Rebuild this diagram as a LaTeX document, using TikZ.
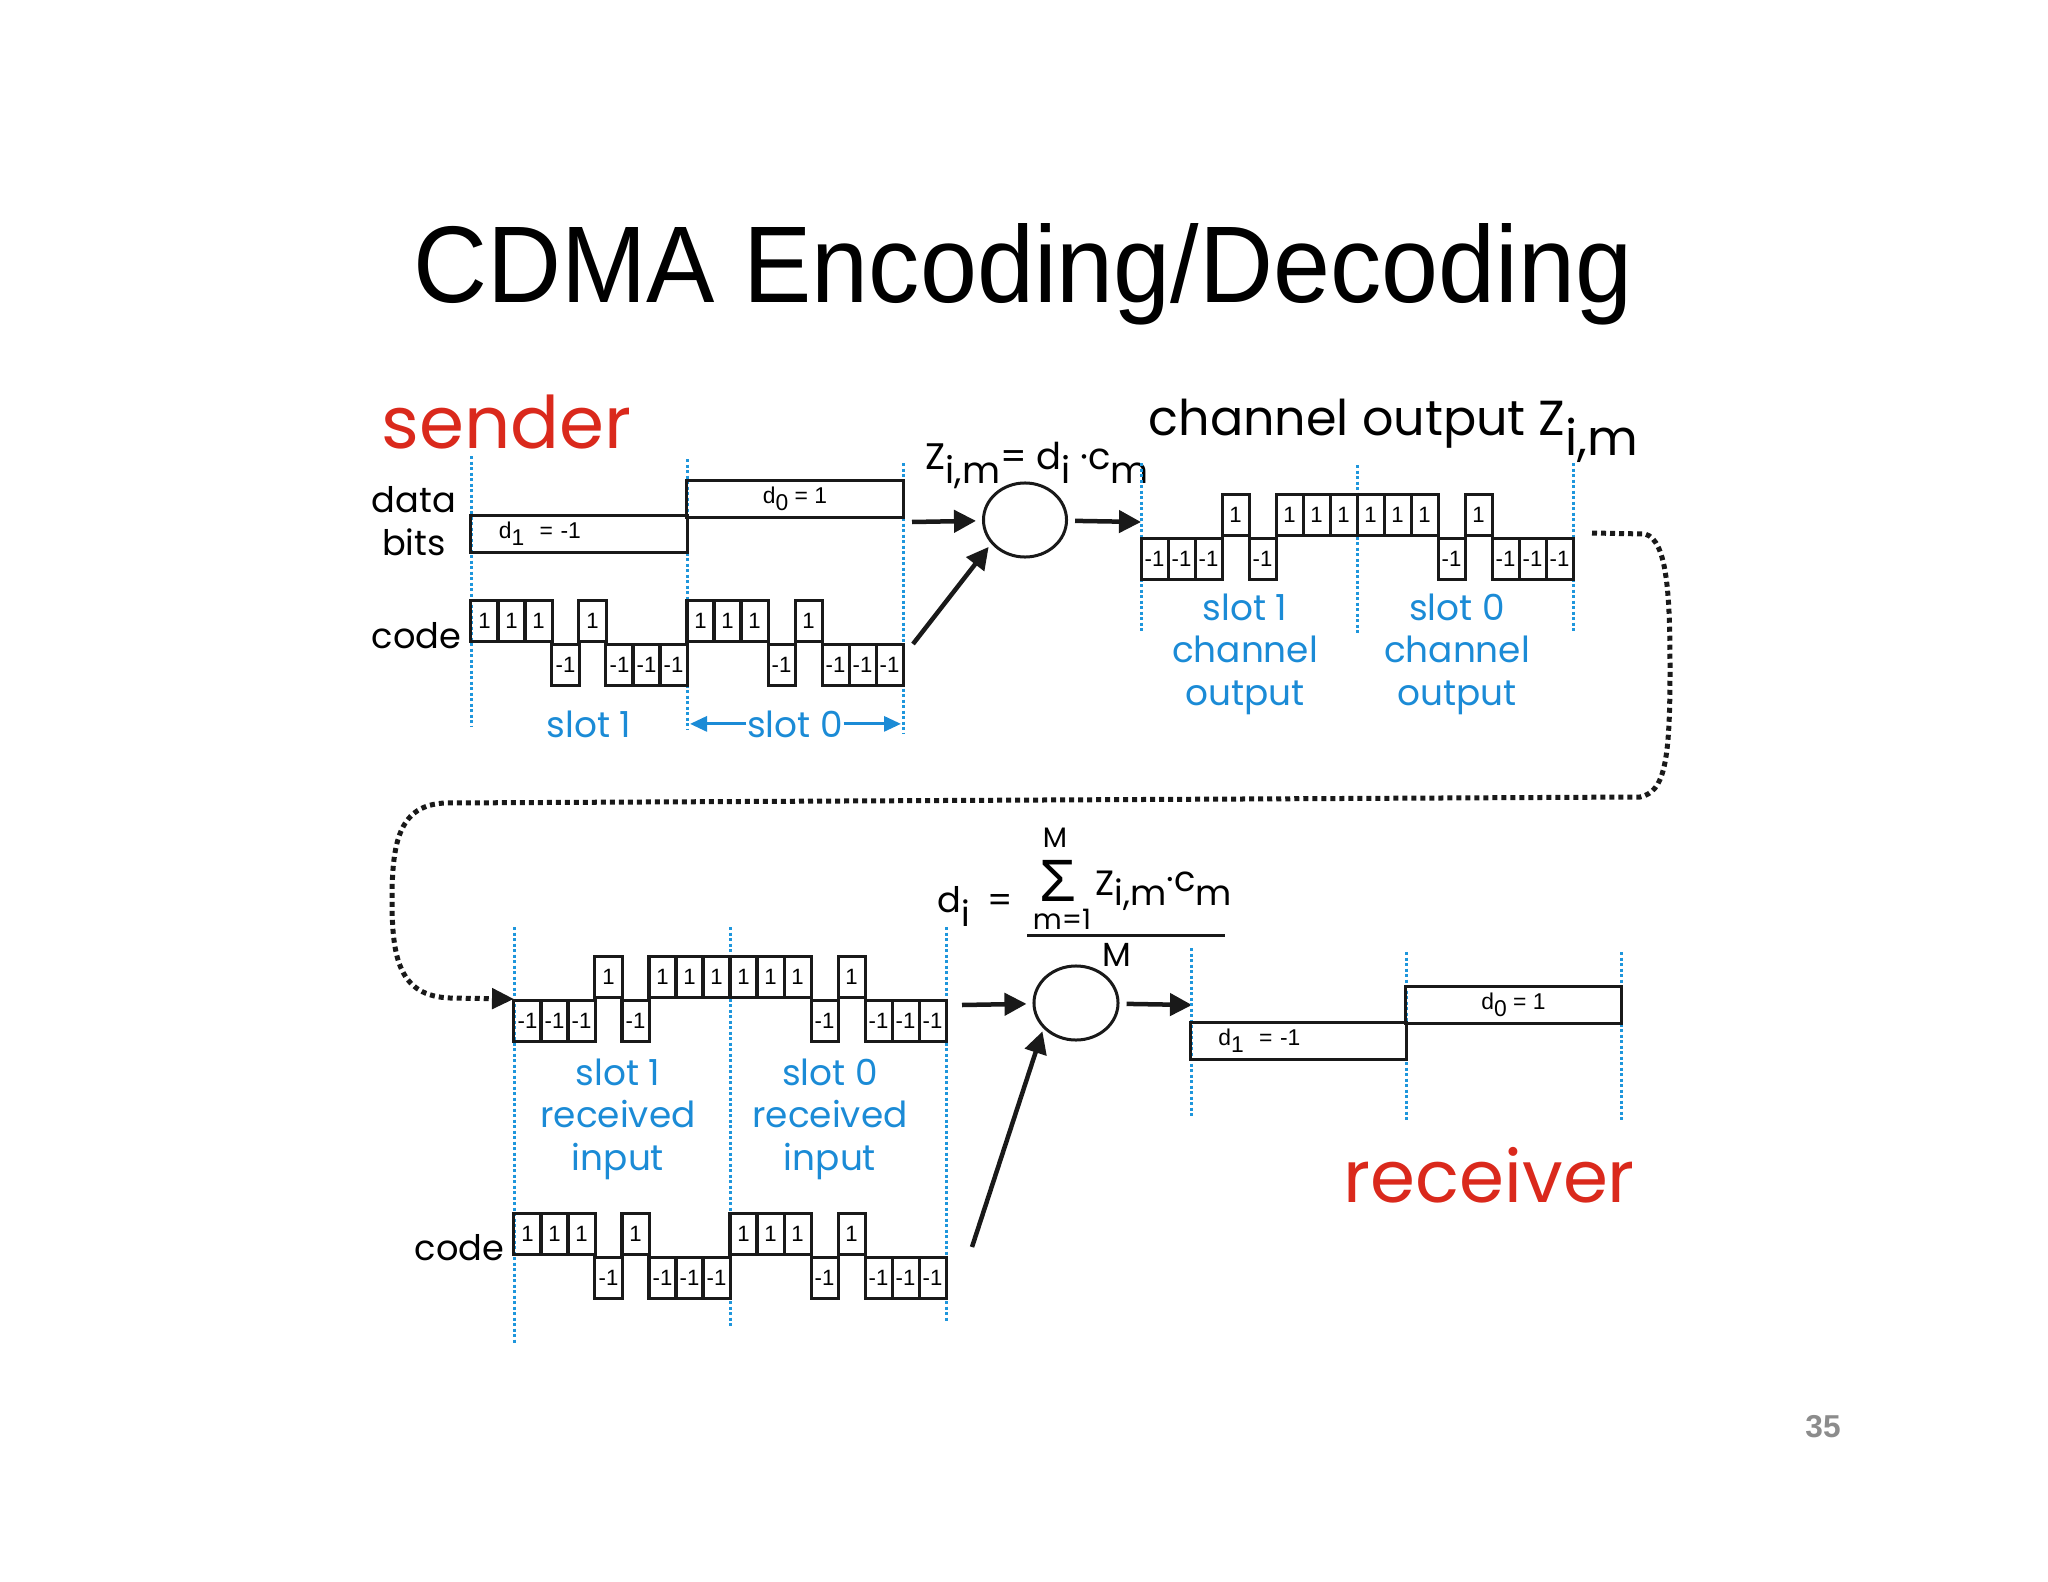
\documentclass[tikz,border=0pt]{standalone}
\usepackage{fontspec}
\setmainfont{Poppins}
\newfontfamily\arialfont{Liberation Sans}
\newfontfamily\titlefont[FakeStretch=0.94]{Liberation Sans}
\usetikzlibrary{shapes.geometric, arrows.meta, positioning, calc}
\definecolor{myred}{RGB}{218,41,28}
\definecolor{myblue}{RGB}{27,139,214}
\definecolor{mydots}{RGB}{30,150,220}
\definecolor{mydark}{RGB}{25,25,25}
\definecolor{mygray}{RGB}{140,140,140}
\tikzset{
  chipup/.style={rectangle, draw=mydark, line width=0.03cm, minimum width=0.27cm,
    minimum height=0.41cm, inner sep=0pt, anchor=south,
    font=\arialfont\fontsize{6.3}{7}\selectfont},
  chipdn/.style={chipup, anchor=north},
  bitbox/.style={rectangle, draw=mydark, line width=0.03cm, minimum height=0.36cm,
    inner sep=0pt, font=\arialfont\fontsize{6.5}{7}\selectfont},
  slotline/.style={color=mydots, line width=0.03cm, dash pattern=on 0.03cm off 0.025cm},
  sumjunc/.style={ellipse, draw=mydark, line width=0.03cm, minimum width=0.83cm,
    minimum height=0.74cm, inner sep=0pt},
  arrow/.style={-{Triangle[length=0.22cm, width=0.22cm]}, line width=0.045cm, color=mydark},
  bluearrow/.style={-{Triangle[length=0.17cm, width=0.15cm]}, line width=0.03cm, color=myblue},
  link/.style={-{Triangle[length=0.22cm, width=0.2cm]}, line width=0.05cm, color=mydark,
    dash pattern=on 0.05cm off 0.04cm},
  line/.style={line width=0.03cm, color=mydark},
  redlbl/.style={color=myred, font=\fontsize{20.6}{24}\selectfont, anchor=base west, inner sep=0pt},
  lbl/.style={font=\fontsize{10}{11.95}\selectfont, inner sep=0pt},
  bluelbl/.style={color=myblue, align=center, font=\fontsize{10.2}{11.95}\selectfont,
    inner sep=0pt, anchor=base},
  formula/.style={font=\fontsize{10.5}{12}\selectfont, anchor=base west, inner sep=0pt}
}
% one row of chips: name, left x, baseline y, chip values
\newcommand{\chiprow}[4]{%
  \foreach \c [count=\k] in {#4} {
    \ifnum\c>0 \node[chipup] (#1\k) at ({#2+27*\k-13.5},#3) {1};
    \else \node[chipdn] (#1\k) at ({#2+27*\k-13.5},#3) {-1};
    \fi
  }}

\begin{document}
\begin{tikzpicture}[x=0.01cm, y=-0.01cm]
  \useasboundingbox (0,0) rectangle (2048,1582);

  % Title and page number
  \node[font=\titlefont\fontsize{31}{36}\selectfont, anchor=base] (title) at (1023,303) {CDMA Encoding/Decoding};
  \node[font=\arialfont\bfseries\fontsize{9}{10}\selectfont, color=mygray, anchor=base] (pnum) at (1823,1437) {35};

  % Sender
  \node[redlbl] (sender) at (381,448) {sender};
  \node[lbl, align=center, anchor=base] (databits) at (414,555) {data\\bits};
  \node[lbl, anchor=base east] (scodelbl) at (462,648) {code};
  \draw[slotline] (471,456) -- (471,726);
  \draw[slotline] (687,459) -- (687,730);
  \draw[slotline] (903,463) -- (903,733);
  \node[bitbox, minimum width=2.16cm, text width=1.6cm, align=left] (sd1) at (579,534) {d\raisebox{-2pt}{1}\ \ = -1};
  \node[bitbox, minimum width=2.16cm] (sd0) at (795,499) {d\raisebox{-2pt}{0} = 1};
  \chiprow{sc}{471}{643}{1,1,1,-1,1,-1,-1,-1,1,1,1,-1,1,-1,-1,-1}
  \node[bluelbl] (sslot1) at (589,737) {slot 1};
  \node[bluelbl] (sslot0) at (795,737) {slot 0};
  \coordinate (s0l) at (690,727);
  \coordinate (s0r) at (901,727);
  \draw[bluearrow] (sslot0.west) -- (sslot0.west -| s0l);
  \draw[bluearrow] (sslot0.east) -- (sslot0.east -| s0r);

  % Encoder
  \node[formula] (zform) at (925,469) {Z\raisebox{-4pt}{i,m}= d\raisebox{-4pt}{i} ·c\raisebox{-4pt}{m}};
  \node[sumjunc] (sx) at (1025,520) {};
  \coordinate (sbits) at (912,522);
  \coordinate (scode) at (913,644);
  \coordinate (chin) at (1141,522);
  \draw[arrow, shorten >=0.06cm] (sbits) -- (sx);
  \draw[arrow, shorten >=0.04cm] (scode) -- (sx.215);
  \draw[arrow, shorten <=0.07cm] (sx) -- (chin);

  % Channel output
  \node[formula, font=\fontsize{14}{16}\selectfont] (chlbl) at (1148,435) {channel output Z\raisebox{-5.7pt}{i,m}};
  \draw[slotline] (1141,463) -- (1141,633);
  \draw[slotline] (1357,465) -- (1357,633);
  \draw[slotline] (1573,463) -- (1573,633);
  \chiprow{cw}{1141}{537}{-1,-1,-1,1,-1,1,1,1,1,1,1,-1,1,-1,-1,-1}
  \node[bluelbl] (cslot1) at (1245,705) {slot 1\\channel\\output};
  \node[bluelbl] (cslot0) at (1457,705) {slot 0\\channel\\output};

  % Channel to receiver
  \coordinate (chout) at (1592,533);
  \coordinate (rin) at (514,999);
  \draw[link] (chout) -- (1645,534) .. controls (1668,540) and (1670,600) .. (1670,670)
    .. controls (1670,760) and (1665,792) .. (1640,797) -- (445,803)
    .. controls (400,805) and (392,840) .. (392,900)
    .. controls (392,960) and (400,996) .. (450,998) -- (rin);

  % Receiver input and code
  \draw[slotline] (514,927) -- (514,1345);
  \draw[slotline] (730,927) -- (730,1327);
  \draw[slotline] (946,927) -- (946,1323);
  \chiprow{rw}{514}{999}{-1,-1,-1,1,-1,1,1,1,1,1,1,-1,1,-1,-1,-1}
  \chiprow{rc}{514}{1256}{1,1,1,-1,1,-1,-1,-1,1,1,1,-1,1,-1,-1,-1}
  \node[lbl, anchor=base east] (rcodelbl) at (505,1260) {code};
  \node[bluelbl] (rslot1) at (618,1170) {slot 1\\received\\input};
  \node[bluelbl] (rslot0) at (830,1170) {slot 0\\received\\input};

  % Decoder
  \node[formula, font=\fontsize{10}{12}\selectfont] (rdi) at (937,912) {d\raisebox{-4pt}{i}\hspace{5pt}=};
  \node[font=\arialfont\fontsize{17}{19}\selectfont, inner sep=0pt] (rsum) at (1058,881) {Σ};
  \node[font=\fontsize{8}{9}\selectfont, inner sep=0pt] (rsumtop) at (1055,838) {M};
  \node[font=\fontsize{8}{9}\selectfont, anchor=base, inner sep=0pt] (rsumbot) at (1062,929) {m=1};
  \node[formula, font=\fontsize{10}{12}\selectfont] (rterm) at (1095,895) {Z\raisebox{-3pt}{i,m}\raisebox{1pt}{·c}\raisebox{-3pt}{m}};
  \draw[line] (1027,935) -- (1225,935);
  \node[font=\fontsize{9.5}{11}\selectfont, inner sep=0pt] (rden) at (1117,955) {M};
  \node[sumjunc, minimum width=0.84cm] (rx) at (1076,1003) {};
  \coordinate (rwave) at (962,1005);
  \coordinate (rcode) at (972,1247);
  \coordinate (rbits) at (1192,1005);
  \draw[arrow, shorten >=0.06cm] (rwave) -- (rx);
  \draw[arrow, shorten >=0.03cm] (rcode) -- (rx.218);
  \draw[arrow, shorten <=0.07cm] (rx) -- (rbits);

  % Receiver output
  \draw[slotline] (1191,948) -- (1191,1117);
  \draw[slotline] (1406,952) -- (1406,1120);
  \draw[slotline] (1621,952) -- (1621,1120);
  \node[bitbox, minimum width=2.15cm, text width=1.6cm, align=left] (rd1) at (1298.5,1041) {d\raisebox{-2pt}{1}\ \ = -1};
  \node[bitbox, minimum width=2.15cm] (rd0) at (1513.5,1005) {d\raisebox{-2pt}{0} = 1};
  \node[redlbl] (receiver) at (1343,1202) {receiver};
\end{tikzpicture}
\end{document}
